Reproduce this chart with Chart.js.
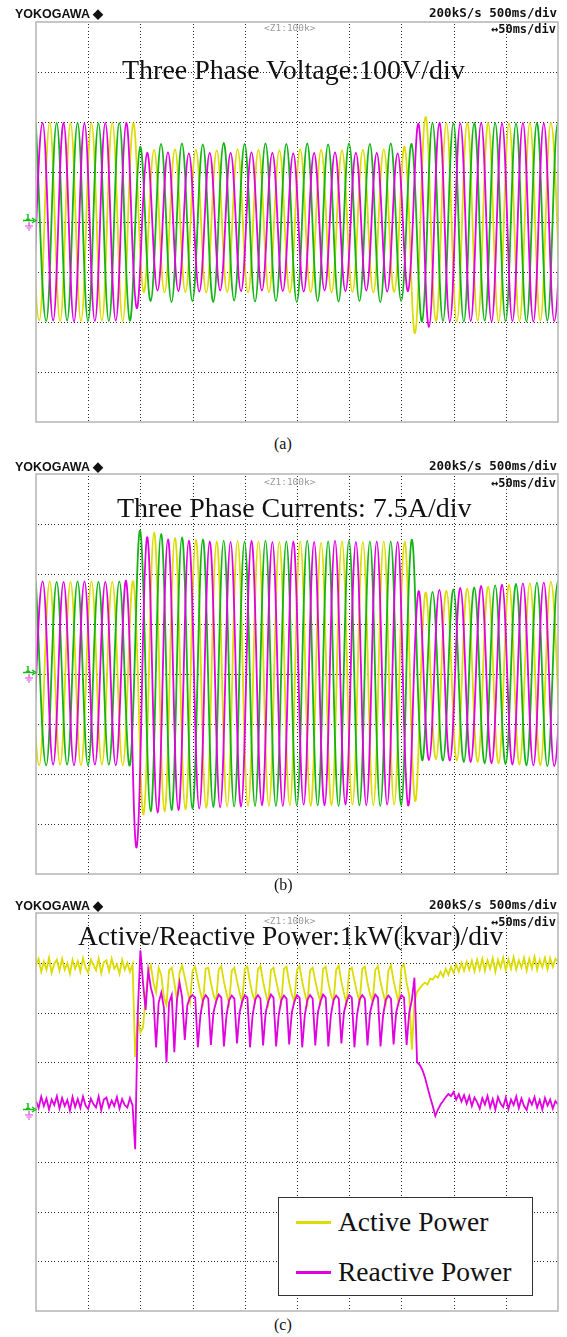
<!DOCTYPE html>
<html>
<head>
<meta charset="utf-8">
<script src="https://cdn.jsdelivr.net/npm/chart.js@4.4.0/dist/chart.umd.min.js"></script>
<style>
  body { margin: 0; background: #fff; }
  #page { position: relative; width: 567px; height: 1337px; overflow: hidden; background: #fff; }
  #page canvas { position: absolute; }
  .txt { position: absolute; white-space: nowrap; line-height: 1; z-index: 2; }
  .brand { font-family: "Liberation Sans", Arial, sans-serif; font-weight: bold; color: #111; }
  .readout { font-family: "DejaVu Sans Mono", monospace; font-weight: bold; color: #111; }
  .zoomtag { font-family: "DejaVu Sans Mono", monospace; color: #9a9a9a; }
  .serif { font-family: "Liberation Serif", "Times New Roman", serif; color: #111; }
  .legend { position: absolute; z-index: 2; background: #fff; border: 1px solid #333; }
  .legend .swatch { position: absolute; height: 3px; }
  svg.gnd { position: absolute; z-index: 2; }
</style>
</head>
<body>
<div id="page">
  <canvas id="scopeA" width="528" height="406" style="left:33px; top:19px;"></canvas>
  <canvas id="scopeB" width="528" height="406" style="left:33px; top:471px;"></canvas>
  <canvas id="scopeC" width="528" height="404" style="left:33px; top:910px;"></canvas>
</div>
<script>
// time axis: 50 ms/div, 10 divisions
const timeSpanMs = [0, 500];
const halfCycleMs = 10;

// three phases, peaks and troughs every half cycle from the first one
const phaseColors = ['#e000e0', '#dcdc00', '#14b414'];
const phaseStartMs = [-3.6, -6.9, -0.2];

// (a) phase voltages, V (100 V/div)
const voltageRange = [-400, 400];
const voltMagenta = [
  -198, 198, -197, 198, -199, 197, -198, 198, -197, 198, -172,
  138, -137, 139, -138, 137, -139, 138, -137, 138, -138,
  139, -137, 138, -138, 137, -139, 138, -137, 139, -138,
  138, -137, 138, -139, 137, -138,
  196, -210, 198, -199, 197, -198, 198, -199, 197, -198,
  198, -199, 197, -198, 197
];
const voltYellow = [
  198, -197, 198, -198, 197, -198, 198, -197, 198, -198, 197,
  -140, 144, -141, 145, -140, 144, -141, 143, -140, 145,
  -141, 144, -140, 143, -141, 145, -140, 144, -141, 143,
  -140, 144, -141, 145, -140, 150,
  -222, 210,
  -198, 197, -199, 198, -197, 198, -199, 197, -198, 198,
  -197, 198, -198
];
const voltGreen = [
  199, -198, 198, -197, 198, -198, 197, -198, 198, -197,
  150, -158, 156, -160, 157, -158, 155, -160, 158, -157,
  156, -159, 157, -158, 156, -160, 157, -158, 155, -159,
  157, -158, 156, -160, 157, -158, 156,
  -199, 198, -198, 197, -199, 198, -197, 198, -198, 197,
  -199, 198, -197, 198, -198
];

// (b) phase currents, A (7.5 A/div)
const currentRange = [-30, 30];
const curMagenta = [
  -13.7, 13.9, -13.6, 13.8, -13.7, 13.9, -13.6, 13.8, -13.7, 13.9,
  -26.0,
  20.5, -20.8, 20.2, -20.4, 20.0, -20.2, 19.9, -20.0, 19.8, -19.9,
  20.0, -19.7, 19.8, -19.8, 19.9, -19.6, 19.8, -19.7, 20.0, -19.6,
  19.8, -19.7, 19.9, -19.6, 19.8, -19.7,
  12.4, -12.9, 12.6, -13.0, 12.9, -13.2, 13.2, -13.4, 13.4, -13.6,
  13.6, -13.7, 13.7, -13.8, 13.8
];
const curYellow = [
  13.8, -13.7, 13.9, -13.6, 13.8, -13.7, 13.9, -13.6, 13.8, -13.7, 13.9,
  -21.0, 21.2, -20.6, 20.4, -20.3, 20.1, -20.1, 19.9, -19.9, 20.0,
  -19.8, 19.9, -19.8, 19.8, -19.7, 19.9, -19.8, 19.7, -19.7, 19.9,
  -19.6, 19.8, -19.7, 19.9, -19.6, 19.8,
  -19.0,
  12.2, -12.8, 12.5, -13.0, 12.8, -13.2, 13.1, -13.4, 13.4, -13.6,
  13.6, -13.7, 13.8, -13.8
];
const curGreen = [
  13.9, -13.7, 13.8, -13.6, 13.9, -13.7, 13.8, -13.6, 13.9, -13.7,
  21.5, -20.6, 21.0, -20.4, 20.5, -20.2, 20.2, -20.0, 20.0, -19.9,
  19.9, -19.8, 20.0, -19.8, 19.9, -19.7, 20.0, -19.7, 19.9, -19.8,
  20.0, -19.7, 19.9, -19.8, 19.9, -19.7, 20.1,
  -12.9, 12.3, -13.0, 12.7, -13.2, 13.0, -13.4, 13.3, -13.5, 13.5,
  -13.7, 13.7, -13.8, 13.8, -13.8
];

// (c) power, one sample every 2.5 ms (1 kW / kvar per div)
const powerRange = [-4, 4];
const powerStepMs = 2.5;
const powerLabels = ['Active Power', 'Reactive Power'];
const powerColors = ['#dcdc00', '#e000e0'];
const activeKw = [
  2.95, 3.08, 2.82, 3.02, 2.86, 3.10, 2.80, 2.98, 3.06, 2.84,
  3.08, 2.86, 2.99, 2.78, 3.06, 2.88, 3.03, 2.82, 3.09, 2.90,
  2.80, 3.06, 2.96, 2.85, 3.08, 2.79, 3.01, 3.05, 2.83, 3.08,
  2.88, 2.97, 2.78, 3.06, 2.86, 3.00, 2.82, 2.97, 1.10, 1.90,
  1.60, 1.70, 2.30, 2.80, 2.95, 2.60, 2.40, 2.90, 2.75, 2.30,
  2.15, 2.85, 2.90, 2.60, 2.25, 2.80, 2.95, 2.70, 2.45, 2.20,
  2.85, 2.92, 2.65, 2.40, 2.20, 2.88, 2.90, 2.60, 2.35, 2.22,
  2.86, 2.93, 2.62, 2.38, 2.18, 2.84, 2.90, 2.64, 2.40, 2.20,
  2.88, 2.92, 2.60, 2.36, 2.22, 2.86, 2.94, 2.62, 2.38, 2.18,
  2.85, 2.90, 2.64, 2.40, 2.20, 2.88, 2.92, 2.60, 2.36, 2.22,
  2.86, 2.93, 2.62, 2.38, 2.18, 2.84, 2.90, 2.64, 2.40, 2.20,
  2.88, 2.92, 2.60, 2.36, 2.22, 2.86, 2.94, 2.62, 2.38, 2.18,
  2.85, 2.90, 2.64, 2.40, 2.20, 2.88, 2.92, 2.60, 2.36, 2.22,
  2.86, 2.93, 2.62, 2.38, 2.18, 2.84, 2.95, 2.64, 2.40, 2.20,
  2.90, 2.96, 2.60, 2.35, 1.25, 2.20, 2.42, 2.48, 2.55, 2.60,
  2.56, 2.68, 2.66, 2.74, 2.70, 2.82, 2.72, 2.88, 2.76, 2.92,
  2.80, 2.96, 2.82, 3.00, 2.84, 3.02, 2.86, 3.04, 2.83, 3.06,
  2.86, 3.08, 2.84, 3.05, 2.88, 3.09, 2.82, 3.06, 2.90, 3.10,
  2.85, 3.07, 2.88, 3.11, 2.86, 3.05, 2.90, 3.10, 2.84, 3.08,
  2.89, 3.12, 2.86, 3.06, 2.91, 3.10, 2.87, 3.09, 2.92, 3.08,
  3.02
];
const reactiveKvar = [
  0.22, 0.08, 0.31, 0.12, 0.27, 0.05, 0.25, 0.14, 0.32, 0.07,
  0.28, 0.12, 0.24, 0.03, 0.30, 0.10, 0.26, 0.08, 0.31, 0.13,
  0.06, 0.27, 0.16, 0.09, 0.31, 0.04, 0.25, 0.29, 0.09, 0.23,
  0.12, 0.30, 0.07, 0.26, 0.14, 0.09, 0.28, 0.13, -0.75, 2.00,
  3.25, 2.60, 2.05, 2.85, 2.50, 2.30, 1.30, 2.20, 2.40, 2.10,
  1.00, 2.20, 2.35, 1.20, 2.25, 2.60, 2.30, 1.45, 2.15, 2.30,
  2.35, 2.30, 1.30, 1.95, 2.25, 2.35, 2.28, 1.35, 2.00, 2.22,
  2.36, 2.30, 1.32, 1.95, 2.25, 2.34, 2.28, 1.38, 2.00, 2.22,
  2.35, 2.30, 1.30, 1.95, 2.26, 2.35, 2.28, 1.34, 2.00, 2.22,
  2.36, 2.30, 1.32, 1.95, 2.25, 2.34, 2.28, 1.36, 2.00, 2.22,
  2.35, 2.30, 1.30, 1.95, 2.26, 2.35, 2.28, 1.34, 2.00, 2.22,
  2.36, 2.30, 1.32, 1.95, 2.25, 2.34, 2.28, 1.38, 2.00, 2.22,
  2.35, 2.30, 1.30, 1.95, 2.26, 2.35, 2.28, 1.34, 2.00, 2.22,
  2.36, 2.30, 1.32, 1.95, 2.25, 2.34, 2.28, 1.36, 2.00, 2.22,
  2.35, 2.30, 1.35, 2.00, 2.25, 2.70, 1.00, 0.95, 0.85, 0.70,
  0.50, 0.30, 0.12, -0.08, 0.05, 0.15, 0.22, 0.30, 0.36, 0.32,
  0.40, 0.25, 0.36, 0.21, 0.34, 0.17, 0.32, 0.12, 0.29, 0.20,
  0.07, 0.28, 0.15, 0.32, 0.09, 0.26, 0.05, 0.30, 0.17, 0.10,
  0.29, 0.06, 0.25, 0.14, 0.31, 0.08, 0.27, 0.12, 0.04, 0.26,
  0.15, 0.30, 0.09, 0.24, 0.05, 0.28, 0.13, 0.25, 0.07, 0.22,
  0.15
];

// dotted scope graticule under the traces, grey frame on top
const graticule = {
  id: 'graticule',
  beforeDatasetsDraw(chart) {
    const { ctx, chartArea: a, scales: { x, y } } = chart;
    ctx.save();
    ctx.fillStyle = '#2a2a2a';
    const xStep = (x.max - x.min) / 10, yStep = (y.max - y.min) / 8;
    for (let k = 1; k < 10; k++) {
      const px = Math.round(x.getPixelForValue(x.min + k * xStep));
      for (let py = a.top + 2; py < a.bottom - 1; py += 3.33) ctx.fillRect(px, Math.round(py), 1, 1);
    }
    for (let k = 1; k < 8; k++) {
      const py = Math.round(y.getPixelForValue(y.min + k * yStep));
      for (let px = a.left + 2; px < a.right - 1; px += 3.26) ctx.fillRect(Math.round(px), py, 1, 1);
    }
    ctx.restore();
  },
  afterDatasetsDraw(chart) {
    const { ctx, chartArea: a } = chart;
    ctx.save();
    ctx.strokeStyle = '#b4b4b4';
    ctx.lineWidth = 1.5;
    ctx.strokeRect(a.left, a.top, a.right - a.left, a.bottom - a.top);
    ctx.restore();
  }
};

function phaseLine(values, k) {
  return {
    data: values.map((v, i) => ({ x: phaseStartMs[k] + i * halfCycleMs, y: v })),
    borderColor: phaseColors[k],
    borderWidth: 1.8,
    pointRadius: 0,
    tension: 0.4
  };
}

function powerLine(values, k) {
  return {
    label: powerLabels[k],
    data: values.map((v, i) => ({ x: i * powerStepMs, y: v })),
    borderColor: powerColors[k],
    borderWidth: 1.8,
    pointRadius: 0,
    tension: 0
  };
}

function scope(id, datasets, range) {
  return new Chart(document.getElementById(id), {
    type: 'line',
    data: { datasets: datasets },
    options: {
      responsive: false,
      animation: false,
      events: [],
      layout: { padding: 3 },
      plugins: { legend: { display: false }, tooltip: { enabled: false } },
      scales: {
        x: { type: 'linear', min: timeSpanMs[0], max: timeSpanMs[1], display: false },
        y: { min: range[0], max: range[1], display: false }
      }
    },
    plugins: [graticule]
  });
}

scope('scopeA', [phaseLine(voltMagenta, 0), phaseLine(voltGreen, 2), phaseLine(voltYellow, 1)], voltageRange);
scope('scopeB', [phaseLine(curMagenta, 0), phaseLine(curGreen, 2), phaseLine(curYellow, 1)], currentRange);
const powerChart = scope('scopeC', [powerLine(reactiveKvar, 1), powerLine(activeKw, 0)], powerRange);

// text is placed by its baseline
const page = document.getElementById('page');
function addText(text, cls, size, left, baseline, right) {
  const el = document.createElement('div');
  el.className = 'txt ' + cls;
  el.textContent = text;
  el.style.fontSize = size + 'px';
  el.style.top = (baseline - 0.84 * size) + 'px';
  if (right !== undefined) el.style.right = right + 'px';
  else el.style.left = left + 'px';
  page.appendChild(el);
  return el;
}

function groundMark(cy) {
  const ns = 'http://www.w3.org/2000/svg';
  const svg = document.createElementNS(ns, 'svg');
  svg.setAttribute('class', 'gnd');
  svg.setAttribute('width', '16');
  svg.setAttribute('height', '20');
  svg.style.left = '22px';
  svg.style.top = (cy - 8) + 'px';
  svg.innerHTML =
    '<text x="3" y="6" font-size="8" font-family="DejaVu Sans" font-weight="bold" fill="#10c010">1</text>' +
    '<path d="M1 6.5 H12 M10 4 L14 6.5 L10 9" stroke="#10c010" stroke-width="1.3" fill="none"/>' +
    '<path d="M7 8 V12 M3 12 H11 M4.5 14 H9.5 M6 16 H8" stroke="#e040e0" stroke-width="1.2" fill="none"/>';
  page.appendChild(svg);
}

const panels = [
  { head: 18, zoomBase: 33, title: 'Three Phase Voltage:100V/div', titleX: 122, titleBase: 80, titleSize: 28, centre: 222, cap: '(a)', capBase: 449 },
  { head: 471, zoomBase: 487, title: 'Three Phase Currents: 7.5A/div', titleX: 117, titleBase: 518, titleSize: 28, centre: 674, cap: '(b)', capBase: 890 },
  { head: 910, zoomBase: 926, title: 'Active/Reactive Power:1kW(kvar)/div', titleX: 78, titleBase: 945, titleSize: 27.5, centre: 1111, cap: '(c)', capBase: 1330 }
];

panels.forEach(p => {
  addText('YOKOGAWA \u25C6', 'brand', 12.5, 15, p.head);
  addText('200kS/s 500ms/div', 'readout', 12.5, 0, p.head - 1, 10);
  addText('\u219450ms/div', 'readout', 12, 0, p.zoomBase, 11);
  addText('<Z1:100k>', 'zoomtag', 9.5, 264, p.zoomBase - 2);
  addText(p.title, 'serif', p.titleSize, p.titleX, p.titleBase);
  addText(p.cap, 'serif', 16, 274, p.capBase);
  groundMark(p.centre);
});

// legend box for the power traces
const legend = document.createElement('div');
legend.className = 'legend';
legend.style.left = '278px';
legend.style.top = '1197px';
legend.style.width = '253px';
legend.style.height = '97px';
page.appendChild(legend);
const legendRows = [1222, 1272];
powerChart.data.datasets.slice().reverse().forEach((ds, i) => {
  const sw = document.createElement('div');
  sw.className = 'swatch';
  sw.style.left = '17px';
  sw.style.width = '35px';
  sw.style.top = (legendRows[i] - 1197 - 2) + 'px';
  sw.style.background = ds.borderColor;
  legend.appendChild(sw);
  addText(ds.label, 'serif', 27.5, 338, legendRows[i] + 9);
});
</script>
</body>
</html>
